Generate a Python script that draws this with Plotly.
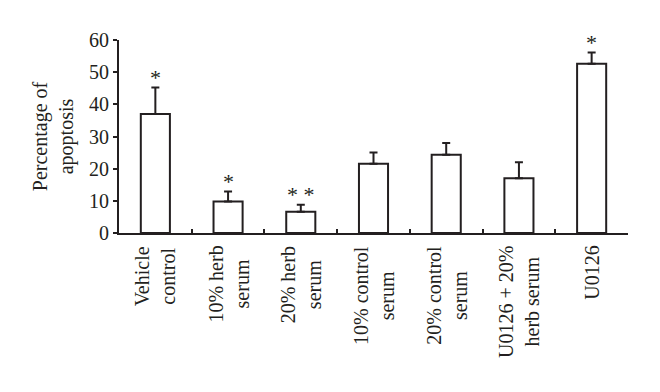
import plotly.graph_objects as go

categories = ["Vehicle<br>control", "10% herb<br>serum", "20% herb<br>serum",
              "10% control<br>serum", "20% control<br>serum",
              "U0126 + 20%<br>herb serum", "U0126"]
values = [37.0, 9.8, 6.6, 21.5, 24.3, 17.0, 52.6]
errors = [8.2, 3.1, 2.2, 3.5, 3.7, 5.0, 3.5]
signif = ["*", "*", "* *", "", "", "", "*"]
y_ticks = [0, 10, 20, 30, 40, 50, 60]

ink = "#231f20"
font = dict(family="Liberation Serif", size=20, color=ink)

fig = go.Figure()
fig.add_trace(go.Bar(
    x=categories, y=values,
    marker=dict(color="white", line=dict(color=ink, width=2)),
    error_y=dict(type="data", symmetric=False, array=errors,
                 arrayminus=[0] * len(errors), color=ink, thickness=2, width=4),
    width=0.4,
))

for c, v, e, s in zip(categories, values, errors, signif):
    if s:
        fig.add_annotation(x=c, y=v + e, text=s, showarrow=False,
                           yanchor="bottom", yshift=-4,
                           font=dict(family="Liberation Serif", size=22, color=ink))

for c in categories:
    fig.add_annotation(x=c, y=0, yref="paper", text=c, showarrow=False,
                       textangle=-90, align="center", yanchor="top", yshift=-11,
                       font=font)

# page body adds an 8px offset; compensate so the plot lands where the reference has it
fig.update_layout(
    width=652, height=384,
    margin=dict(l=111, r=32, t=32, b=159),
    plot_bgcolor="white", paper_bgcolor="white",
    font=font, showlegend=False,
)
fig.update_xaxes(
    showline=True, linecolor=ink, linewidth=2,
    ticks="inside", tickson="boundaries", ticklen=4, tickcolor=ink, tickwidth=1.5,
    showticklabels=False, showgrid=False, automargin=False,
)
fig.update_yaxes(
    range=[0, 60], tickvals=y_ticks, showline=True, linecolor=ink, linewidth=2,
    ticks="outside", ticklen=4, tickcolor=ink, tickwidth=1.5, tickfont=font,
    showgrid=False, zeroline=False, automargin=False,
    title=dict(text="Percentage of<br>apoptosis", font=font, standoff=10),
)

fig.write_html("out.html")
